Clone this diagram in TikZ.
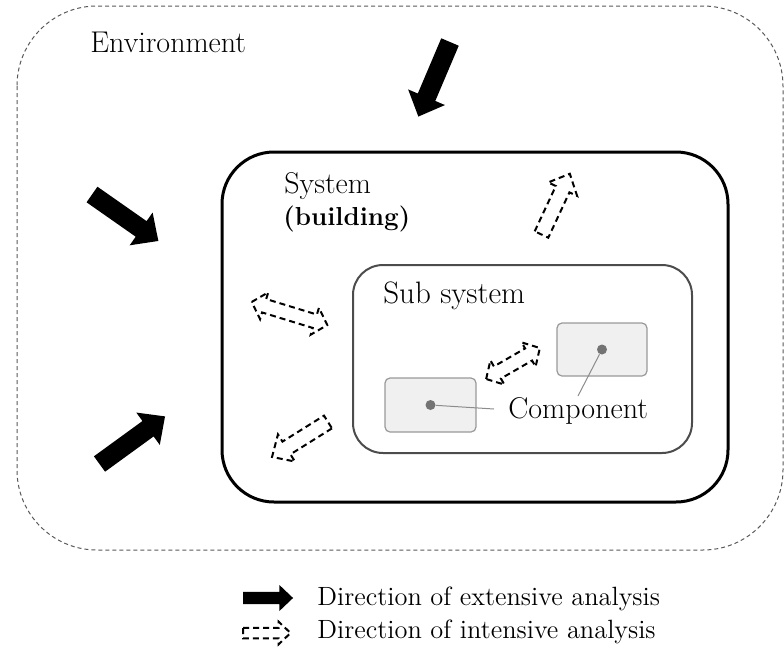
\documentclass[tikz,border=0pt]{standalone}
\begin{document}
\begin{tikzpicture}[x=0.5pt,y=-0.5pt,
    envline/.style={draw=black!65,line width=0.5pt,dash pattern=on 2pt off 1.5pt},
    intline/.style={draw=black,line width=1pt,dash pattern=on 3pt off 2pt,line join=miter},
    comp/.style={draw=black!40,fill=black!6,line width=0.6pt,rounded corners=2.5pt,minimum width=45.5pt,minimum height=27pt},
    pin/.style={circle,fill=black!55,minimum size=5pt,inner sep=0pt},
    lbl/.style={anchor=base west,inner sep=0pt,font=\fontsize{15}{18}\selectfont},
    legend/.style={anchor=base west,inner sep=0pt,font=\fontsize{13.2}{16}\selectfont},
    pics/extarrow/.style={code={\fill[black] (0,-9.5) -- ({#1-21},-9.5) -- ({#1-21},-20) -- (#1,0) -- ({#1-21},20) -- ({#1-21},9.5) -- (0,9.5) -- cycle;}},
    pics/intarrow/.style={code={\draw[intline] (0,-7.5) -- ({#1-17},-7.5) -- ({#1-17},-16) -- (#1,0) -- ({#1-17},16) -- ({#1-17},7.5) -- (0,7.5) -- cycle;}},
    pics/intboth/.style={code={\draw[intline] ({-#1/2},0) -- ({-#1/2+13},-14) -- ({-#1/2+13},-7) -- ({#1/2-13},-7) -- ({#1/2-13},-14) -- ({#1/2},0) -- ({#1/2-13},14) -- ({#1/2-13},7) -- ({-#1/2+13},7) -- ({-#1/2+13},14) -- cycle;}}
  ]
    \useasboundingbox (0,0) rectangle (784,649);

    \draw[envline,rounded corners=40pt] (17,6) rectangle (783,550);
    \draw[line width=1.5pt,rounded corners=26pt] (222,152) rectangle (728,502);
    \draw[draw=black!70,line width=1pt,rounded corners=15pt] (353,265) rectangle (692,453);

    \node[lbl] (env) at (90,52) {Environment};
    \node[lbl] (sys) at (284,193) {System};
    \node[lbl,font=\fontsize{13}{16}\selectfont\bfseries] (bld) at (283,225) {(building)};
    \node[lbl,font=\fontsize{15.5}{18}\selectfont] (sub) at (383,303) {Sub system};

    \node[comp] (c1) at (430.5,405) {};
    \node[comp,minimum width=45pt,minimum height=26.5pt] (c2) at (602,349.5) {};
    \node[pin] (p1) at (c1.center) {};
    \node[pin] (p2) at (c2.center) {};
    \node[lbl] (cmp) at (508,418) {Component};
    \coordinate (e1) at (494,409);
    \coordinate (e2) at (578,396);
    \draw[black!45,line width=0.5pt] (p1) -- (e1);
    \draw[black!45,line width=0.5pt] (p2) -- (e2);

    \pic[rotate=-113] at (450,42) {extarrow=81};
    \pic[rotate=-35] at (92,194.5) {extarrow=81};
    \pic[rotate=36] at (99.5,464) {extarrow=81};

    \pic[rotate=65] at (541.5,234.5) {intarrow=67};
    \pic[rotate=-148] at (328,422) {intarrow=66};
    \pic[rotate=-17] at (289.5,313.5) {intboth=79};
    \pic[rotate=30] at (513,363.5) {intboth=62};

    \pic[scale=0.65] at (243,598) {extarrow=77};
    \pic[scale=0.7] at (243,633) {intarrow=68};
    \node[legend] (ext) at (317,605) {Direction of extensive analysis};
    \node[legend] (int) at (317,638) {Direction of intensive analysis};
\end{tikzpicture}
\end{document}
